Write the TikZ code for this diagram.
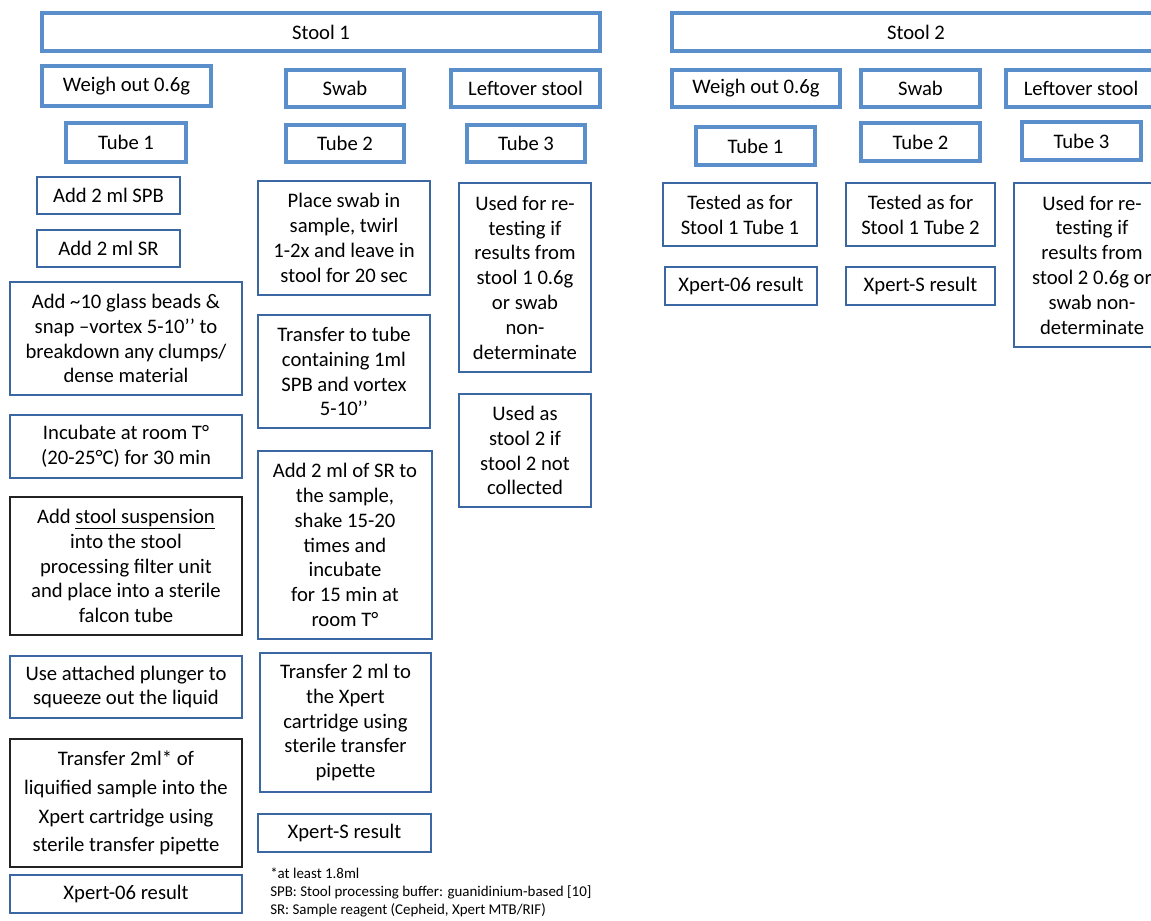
\documentclass[tikz,border=0pt]{standalone}
\usepackage{fontspec}
\setmainfont{Carlito}
\definecolor{boxblue}{HTML}{5B8FCC}
\definecolor{lineblue}{HTML}{3B67A3}
\definecolor{inkdark}{HTML}{222222}
\tikzset{
	headbox/.style={draw=boxblue,line width=2.3pt,align=center,inner sep=0pt},
	stepbox/.style={draw=lineblue,line width=0.9pt,align=center,inner sep=0pt},
	darkbox/.style={draw=inkdark,line width=1.1pt,align=center,inner sep=0pt},
}
% box from corner (x1,y1) to corner (x2,y2), in pixels of the page
\newcommand{\flowbox}[7]{%
	\node[#2,minimum width={(#5-#3)*0.75pt},minimum height={(#6-#4)*0.75pt}] (#1) at ({(#3+#5)/2},{(#4+#6)/2}) {#7};}
\begin{document}
\begin{tikzpicture}[x=0.75pt,y=-0.75pt,font=\fontsize{15.5}{18.6}\selectfont]
	\useasboundingbox (0,0) rectangle (1151,920);
	\clip (0,0) rectangle (1151,920);
	
	% stool 1
	\flowbox{stoolA}{headbox}{42}{13}{600}{51}{Stool 1}
	\flowbox{weighA}{headbox}{42}{66}{211}{106}{Weigh out 0.6g}
	\flowbox{swabA}{headbox}{286}{70}{404}{107}{Swab}
	\flowbox{leftA}{headbox}{451}{70}{600}{107}{Leftover stool}
	\flowbox{tubeAa}{headbox}{66}{123}{186}{162}{Tube 1}
	\flowbox{tubeAb}{headbox}{286}{125}{404}{162}{Tube 2}
	\flowbox{tubeAc}{headbox}{467}{125}{585}{162}{Tube 3}
	
	\flowbox{spb}{stepbox}{37}{177}{180}{214}{Add 2 ml SPB}
	\flowbox{sr}{stepbox}{37}{230}{180}{267}{Add 2 ml SR}
	\flowbox{beads}{stepbox}{10}{282}{242}{395}{Add \textasciitilde10 glass beads \&\\snap –vortex 5-10’’ to\\breakdown any clumps/\\dense material}
	\flowbox{incub}{stepbox}{10}{415}{242}{478}{Incubate at room T°\\(20-25°C) for 30 min}
	\flowbox{susp}{darkbox}{10}{497}{242}{635}{Add \underline{stool suspension}\\into the stool\\processing filter unit\\and place into a sterile\\falcon tube}
	\flowbox{plunger}{stepbox}{10}{656}{242}{718}{Use attached plunger to\\squeeze out the liquid}
	\flowbox{transA}{darkbox,font=\fontsize{15.5}{21.5}\selectfont}{10}{739}{242}{867}{Transfer 2ml* of\\liquified sample into the\\Xpert cartridge using\\sterile transfer pipette}
	\flowbox{resA}{stepbox}{10}{875}{242}{913}{Xpert-06 result}
	
	\flowbox{place}{stepbox}{258}{181}{430}{295}{Place swab in\\sample, twirl\\1-2x and leave in\\stool for 20 sec}
	\flowbox{tubemove}{stepbox}{258}{315}{430}{428}{Transfer to tube\\containing 1ml\\SPB and vortex\\5-10’’}
	\flowbox{addsr}{stepbox}{258}{451}{432}{639}{Add 2 ml of SR to\\the sample,\\shake 15-20\\times and\\incubate\\for 15 min at\\room T°}
	\flowbox{transS}{stepbox}{260}{653}{431}{792}{Transfer 2 ml to\\the Xpert\\cartridge using\\sterile transfer\\pipette}
	\flowbox{resS}{stepbox}{258}{814}{431}{852}{Xpert-S result}
	
	\flowbox{retestA}{stepbox}{459}{183}{591}{372}{Used for re-\\testing if\\results from\\stool 1 0.6g\\or swab\\non-\\determinate}
	\flowbox{spare}{stepbox}{459}{394}{591}{507}{Used as\\stool 2 if\\stool 2 not\\collected}
	
	\node[anchor=north west,align=left,inner sep=0pt,font=\fontsize{11.2}{13.5}\selectfont] (notes) at (270,868) {*at least 1.8ml\\SPB: Stool processing buffer: guanidinium-based [10]\\SR: Sample reagent (Cepheid, Xpert MTB/RIF)};
	
	% stool 2
	\flowbox{stoolB}{headbox}{672}{13}{1160}{51}{Stool 2}
	\flowbox{weighB}{headbox}{672}{70}{840}{107}{Weigh out 0.6g}
	\flowbox{swabB}{headbox}{861}{70}{980}{107}{Swab}
	\flowbox{leftB}{headbox}{1006}{70}{1156}{107}{Leftover stool}
	\flowbox{tubeBa}{headbox}{696}{127}{815}{165}{Tube 1}
	\flowbox{tubeBb}{headbox}{861}{123}{980}{161}{Tube 2}
	\flowbox{tubeBc}{headbox}{1022}{122}{1141}{160}{Tube 3}
	
	\flowbox{testA}{stepbox}{663}{183}{817}{246}{Tested as for\\Stool 1 Tube 1}
	\flowbox{testB}{stepbox}{846}{183}{995}{246}{Tested as for\\Stool 1 Tube 2}
	\flowbox{retestB}{stepbox}{1014}{183}{1170}{347}{Used for re-\\testing if\\results from\\stool 2 0.6g or\\swab non-\\determinate}
	\flowbox{resB}{stepbox}{665}{267}{817}{305}{Xpert-06 result}
	\flowbox{resBS}{stepbox}{846}{267}{995}{305}{Xpert-S result}
\end{tikzpicture}
\end{document}
